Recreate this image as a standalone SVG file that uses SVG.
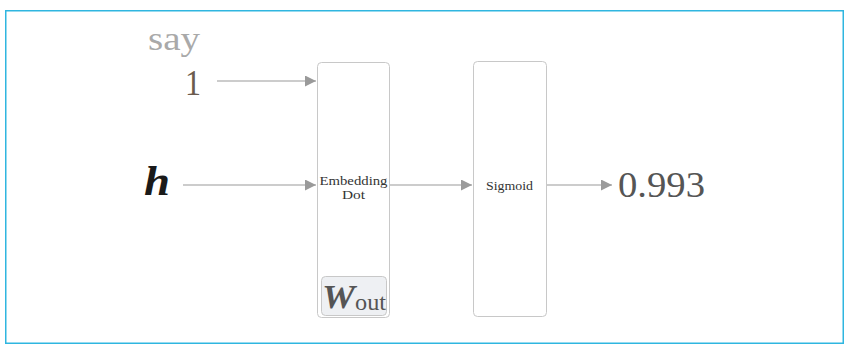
<svg xmlns="http://www.w3.org/2000/svg" width="854" height="349" viewBox="0 0 854 349">
  <style>
    .frame { fill: #ffffff; stroke: #2fb6e0; stroke-width: 1.5; }
    .block { fill: #ffffff; stroke: #c8c8c8; stroke-width: 1; }
    .param { fill: #eef0f3; stroke: #c8c8c8; stroke-width: 1; }
    .edge { stroke: #9a9a9a; stroke-width: 1.2; fill: none; marker-end: url(#tri); }
    .serif { font-family: "Liberation Serif", "DejaVu Serif", serif; }
    .small { font-size: 12.5px; fill: #333333; }
  </style>
  <defs>
    <marker id="tri" viewBox="0 0 10 10" refX="10" refY="5" markerWidth="11" markerHeight="11" markerUnits="userSpaceOnUse" orient="auto">
      <path d="M0,0 L10,5 L0,10 Z" fill="#9a9a9a"/>
    </marker>
  </defs>

  <rect class="frame" x="5.75" y="10.75" width="837.5" height="332.5"/>

  <g id="connectors">
    <line class="edge" x1="217" y1="81" x2="316" y2="81"/>
    <line class="edge" x1="183" y1="185" x2="316" y2="185"/>
    <line class="edge" x1="390" y1="185" x2="472" y2="185"/>
    <line class="edge" x1="547" y1="185" x2="612" y2="185"/>
  </g>

  <g id="input-say">
    <text class="serif" x="148" y="50" font-size="33" fill="#a9a9a9" textLength="52" lengthAdjust="spacingAndGlyphs">say</text>
    <text class="serif" x="185" y="95" font-size="35" fill="#6b5b4e" textLength="16" lengthAdjust="spacingAndGlyphs">1</text>
  </g>

  <g id="input-h">
    <text class="serif" x="144" y="195" font-size="42" font-weight="bold" font-style="italic" fill="#1a1a1a" textLength="26" lengthAdjust="spacingAndGlyphs">h</text>
  </g>

  <g id="embedding-dot">
    <rect class="block" x="317.5" y="62.5" width="72" height="255" rx="4"/>
    <text class="serif small" x="319.5" y="185" textLength="68" lengthAdjust="spacingAndGlyphs">Embedding</text>
    <text class="serif small" x="342" y="199" textLength="23" lengthAdjust="spacingAndGlyphs">Dot</text>
    <g id="w-out">
      <rect class="param" x="321.5" y="276.5" width="65" height="39" rx="4"/>
      <text class="serif" x="322" y="308" font-size="33" fill="#555555"><tspan font-weight="bold" font-style="italic" textLength="33" lengthAdjust="spacingAndGlyphs">W</tspan><tspan font-size="24" x="355" y="310" textLength="31" lengthAdjust="spacingAndGlyphs">out</tspan></text>
    </g>
  </g>

  <g id="sigmoid">
    <rect class="block" x="473.5" y="61.5" width="73" height="255" rx="4"/>
    <text class="serif small" x="486" y="190" textLength="47" lengthAdjust="spacingAndGlyphs">Sigmoid</text>
  </g>

  <g id="output">
    <text class="serif" x="618" y="197" font-size="36" fill="#555555" textLength="87" lengthAdjust="spacingAndGlyphs">0.993</text>
  </g>
</svg>
